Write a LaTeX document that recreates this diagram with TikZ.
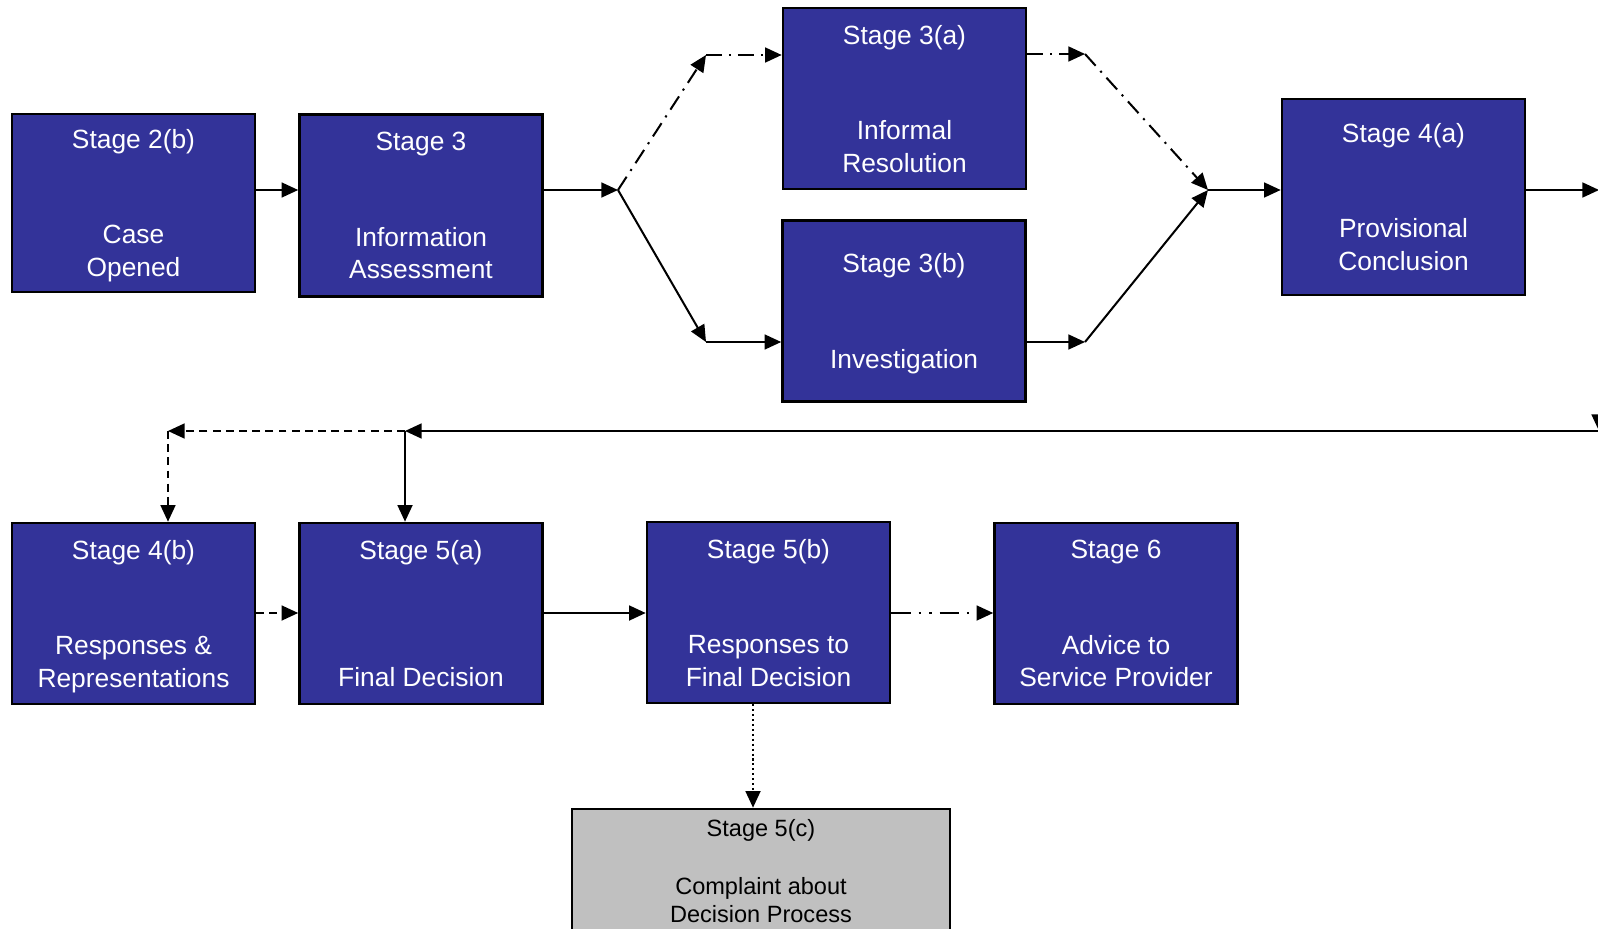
\documentclass[tikz,border=0pt]{standalone}
\usepackage{fontspec}
\setmainfont{Liberation Sans}
\usetikzlibrary{arrows.meta}
\definecolor{stageblue}{RGB}{51,51,153}
\definecolor{stagegrey}{RGB}{192,192,192}
\tikzset{
  stagebox/.style={draw=black, line width=1.5pt, fill=stageblue, text=white,
    minimum width=4.86cm, minimum height=3.62cm, inner sep=0pt, align=center,
    font=\fontsize{15}{18.6}\selectfont, text depth=-1.5pt},
  flow/.style={line width=1.15pt, -{Triangle[length=9.5pt,width=8.5pt]}},
  dashdotline/.style={dash pattern=on 9pt off 4pt on 1.2pt off 4pt},
  dashdotdotline/.style={dash pattern=on 11pt off 4.5pt on 1.5pt off 4.5pt on 1.5pt off 4.5pt},
  dashline/.style={dash pattern=on 4.5pt off 3pt},
  dotline/.style={dash pattern=on 1.2pt off 1.6pt}
}
\begin{document}
\begin{tikzpicture}[x=0.02cm, y=-0.02cm]
		\useasboundingbox (0,0) rectangle (1598,929);
		\clip (0,0) rectangle (1598,929);
		% first row
		\node[stagebox, minimum height=3.56cm] (s2b) at (133.5,203) {Stage 2(b)\\[35.7pt]Case\\Opened};
		\node[stagebox, minimum height=3.64cm] (s3) at (421,205.5) {Stage 3\\[35.7pt]Information\\Assessment};
		\node[stagebox] (s3a) at (904.5,98.5) {Stage 3(a)\\[35.7pt]Informal\\Resolution};
		\node[stagebox] (s3b) at (904,311) {Stage 3(b)\\[35.7pt]Investigation};
		\node[stagebox, minimum height=3.92cm] (s4a) at (1403.5,197) {Stage 4(a)\\[35.7pt]Provisional\\Conclusion};
		% second row
		\node[stagebox] (s4b) at (133.5,613.5) {Stage 4(b)\\[35.7pt]Responses \&\\Representations};
		\node[stagebox] (s5a) at (421,613.5) {Stage 5(a)\\[53.4pt]Final Decision};
		\node[stagebox] (s5b) at (768.5,612.5) {Stage 5(b)\\[35.7pt]Responses to\\Final Decision};
		\node[stagebox] (s6) at (1116,613.5) {Stage 6\\[35.7pt]Advice to\\Service Provider};
		\node[stagebox, fill=stagegrey, text=black, minimum width=7.56cm, minimum height=2.48cm,
			font=\fontsize{13.4}{16.2}\selectfont, text depth=] (s5c) at (761,871) {Stage 5(c)\\[17pt]Complaint about\\Decision Process};

		\coordinate (row1) at (0,190);
		\coordinate (row2) at (0,613);
		\coordinate (split) at (618,190);
		\coordinate (upin) at (706,55);
		\coordinate (lowin) at (706,342);
		\coordinate (upout) at (1085,54);
		\coordinate (lowout) at (1085,342);
		\coordinate (merge) at (1208,190);
		\coordinate (edge) at (1599,190);
		\coordinate (edgedown) at (1599,431);
		\coordinate (back) at (405,431);
		\coordinate (backleft) at (168,431);
		\coordinate (drop) at (753,0);

		\draw[flow] (s2b.east |- row1) -- (s3.west |- row1);
		\draw[flow] (s3.east |- row1) -- (split);
		\draw[flow, dashdotline] (split) -- (upin);
		\draw[flow, dashdotline] (upin) -- (s3a.west |- upin);
		\draw[flow] (split) -- (lowin);
		\draw[flow] (lowin) -- (s3b.west |- lowin);
		\draw[flow, dashdotline] (s3a.east |- upout) -- (upout);
		\draw[flow, dashdotline] (upout) -- (merge);
		\draw[flow] (s3b.east |- lowout) -- (lowout);
		\draw[flow] (lowout) -- (merge);
		\draw[flow] (merge) -- (s4a.west |- merge);
		\draw[flow] (s4a.east |- row1) -- (edge);
		\draw[flow] (edge) -- (edgedown);
		\draw[flow] (edgedown) -- (back);
		\draw[flow] (back) -- (s5a.north -| back);
		\draw[flow, dashline] (back) -- (backleft);
		\draw[flow, dashline] (backleft) -- (s4b.north -| backleft);
		\draw[flow, dashline] (s4b.east |- row2) -- (s5a.west |- row2);
		\draw[flow] (s5a.east |- row2) -- (s5b.west |- row2);
		\draw[flow, dashdotdotline] (s5b.east |- row2) -- (s6.west |- row2);
		\draw[flow, dotline] (s5b.south -| drop) -- (s5c.north -| drop);
	\end{tikzpicture}
\end{document}
